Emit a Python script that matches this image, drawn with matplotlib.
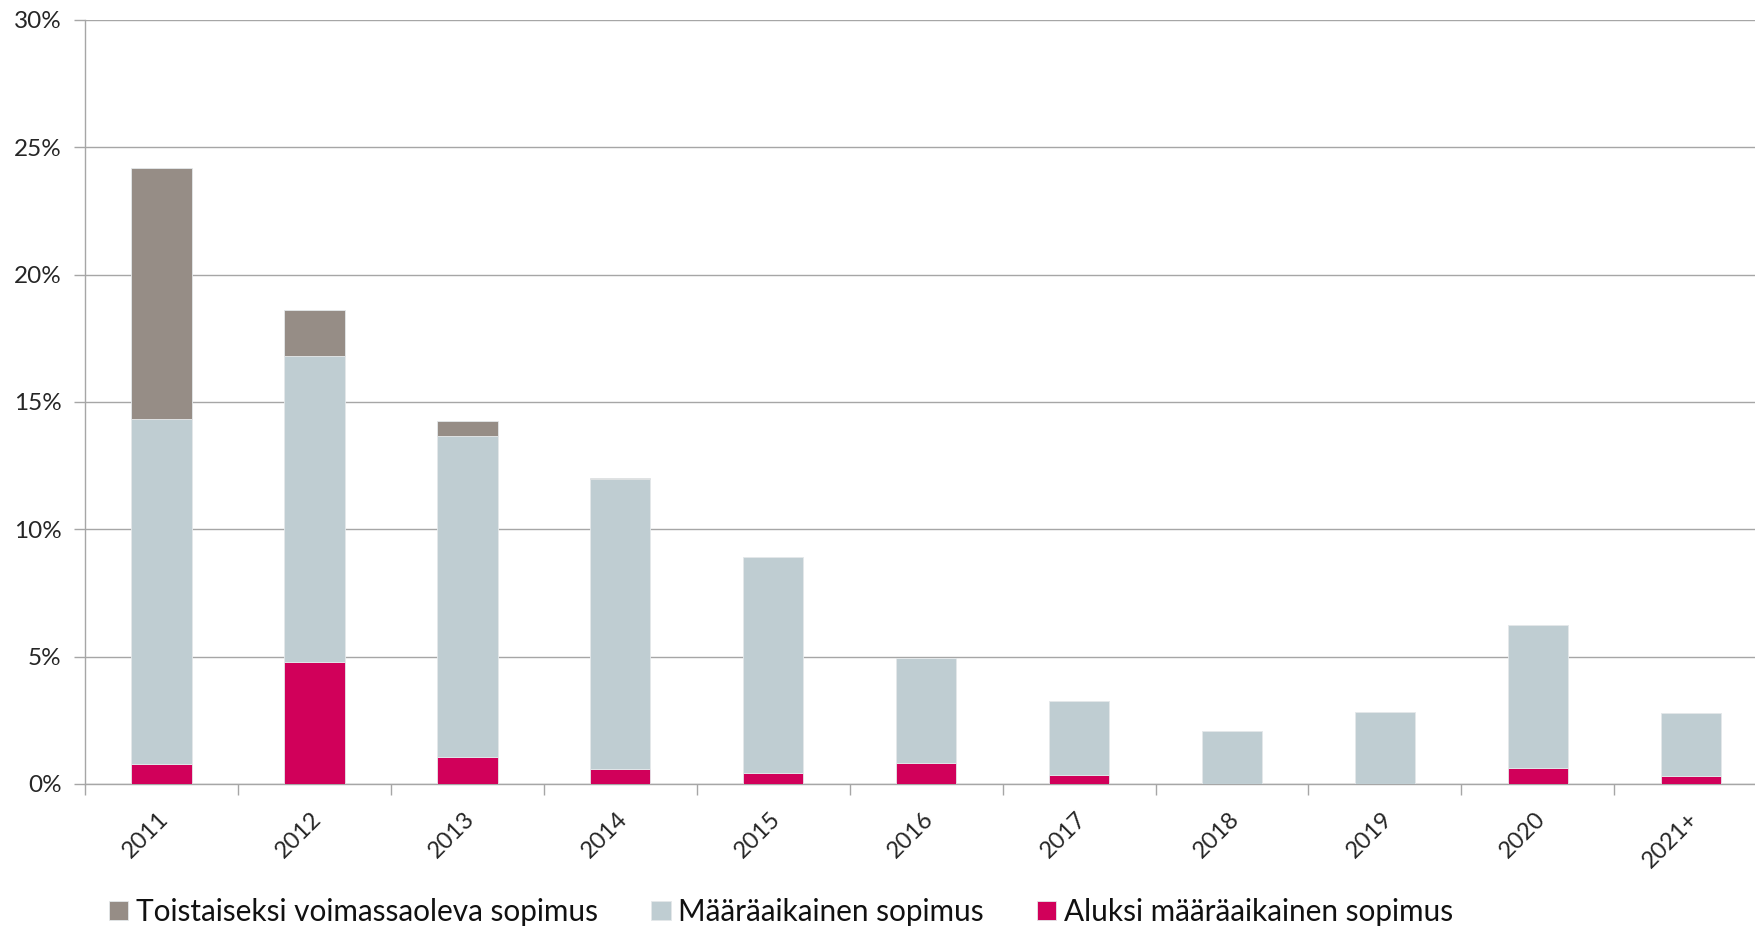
import matplotlib
matplotlib.use("Agg")
import matplotlib.pyplot as plt
import matplotlib.transforms as mtransforms
import numpy as np
from matplotlib.ticker import FixedLocator, PercentFormatter

plt.rcParams['font.family'] = ['Lato', 'DejaVu Sans']

years = ["2011", "2012", "2013", "2014", "2015", "2016", "2017", "2018", "2019", "2020", "2021+"]
aluksi = [0.80, 4.80, 1.06, 0.58, 0.42, 0.84, 0.37, 0.0, 0.0, 0.62, 0.31]
maaraaikainen_total = [14.34, 16.79, 13.68, 11.96, 8.93, 4.93, 3.26, 2.07, 2.82, 6.24, 2.78]
kokonais = [24.18, 18.60, 14.24, 12.01, 8.93, 4.93, 3.26, 2.07, 2.82, 6.24, 2.78]

maaraaikainen = [m - a for m, a in zip(maaraaikainen_total, aluksi)]
toistaiseksi = [k - m for k, m in zip(kokonais, maaraaikainen_total)]

labels = ["Toistaiseksi voimassaoleva sopimus", "Määräaikainen sopimus", "Aluksi määräaikainen sopimus"]
colors = ["#968d86", "#bfcdd2", "#d1005a"]

fig = plt.figure(figsize=(17.55, 9.27), dpi=100)
ax = fig.add_axes([85 / 1755, 1 - 784 / 927, 1 - 85 / 1755, (784 - 20) / 927])

x = np.arange(len(years))
w = 0.395
edge = dict(edgecolor="#e4e8ea", linewidth=0.6)
b1 = ax.bar(x, aluksi, w, color=colors[2], **edge, zorder=3)
b2 = ax.bar(x, maaraaikainen, w, bottom=aluksi, color=colors[1], **edge, zorder=3)
b3 = ax.bar(x, toistaiseksi, w, bottom=maaraaikainen_total, color=colors[0], **edge, zorder=3)

ax.yaxis.set_major_locator(FixedLocator(np.arange(0, 31, 5)))
ax.yaxis.set_major_formatter(PercentFormatter(decimals=0))
ax.grid(axis="y", color="#a6a6a6", linewidth=1.0, zorder=0)

for s in ["top", "right"]:
    ax.spines[s].set_visible(False)
for s in ["left", "bottom"]:
    ax.spines[s].set_color("#a6a6a6")
    ax.spines[s].set_linewidth(1.0)

ax.set_xticks(x)
ax.set_xticklabels(years, rotation=45, ha="right", va="center", rotation_mode="anchor")
ax.set_xticks(np.arange(-0.5, 11, 1.0), minor=True)
ax.tick_params(axis="x", which="major", length=0, pad=23, labelsize=17, labelcolor="#262626")
ax.tick_params(axis="x", which="minor", length=8, width=1.0, color="#a6a6a6")
ax.tick_params(axis="y", length=8, width=1.0, color="#a6a6a6", labelsize=17.5, labelcolor="#262626", pad=9)

# nudge the slanted year labels slightly to the right
shift = mtransforms.ScaledTranslation(4 / 100, 0, fig.dpi_scale_trans)
for lab in ax.get_xticklabels():
    lab.set_transform(lab.get_transform() + shift)

ax.set_xlim(-0.5, 10.42)
ax.set_ylim(0, 30)

fig.legend([b3, b2, b1], labels, loc="center left", bbox_to_anchor=(109 / 1755, 1 - 912 / 927),
           ncol=3, frameon=False, fontsize=21.4, handlelength=0.65, handleheight=0.65,
           handletextpad=0.25, columnspacing=1.8, borderpad=0, borderaxespad=0,
           labelcolor="#111111")

fig.savefig("out.png", dpi=100)
